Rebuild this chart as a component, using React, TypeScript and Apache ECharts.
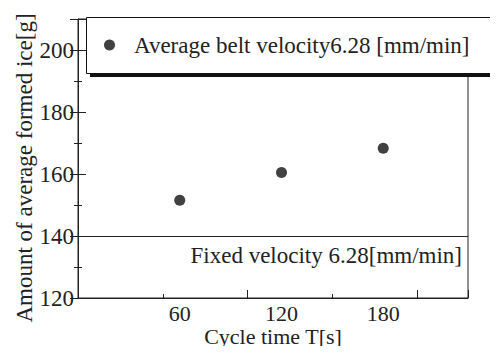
import React, { useEffect, useRef } from "react";
import * as echarts from "echarts";

const cycleTimes = [60, 120, 180];
const avgIce = [151.5, 160.5, 168.3];
const fixedIce = 140;
const xLabelValues = [60, 120, 180];
const seriesName = "Average belt velocity6.28 [mm/min]";
const fixedLabel = "Fixed velocity 6.28[mm/min]";
const xTitle = "Cycle time T[s]";
const yTitle = "Amount of average formed ice[g]";

const FONT = "'Liberation Serif', 'DejaVu Serif', serif";
const INK = "#222";

export default function App() {
  const ref = useRef<HTMLDivElement>(null);
  useEffect(() => {
    if (!ref.current) return;
    const chart = echarts.init(ref.current, undefined, { renderer: "svg" });
    const data = cycleTimes.map((x, i) => [x, avgIce[i]]);
    chart.setOption({
      animation: false,
      backgroundColor: "#fff",
      textStyle: { fontFamily: FONT },
      grid: {
        left: 78,
        right: 30,
        top: 19,
        bottom: 56,
        outerBoundsMode: "none",
        containLabel: false,
        show: true,
        borderColor: INK,
        borderWidth: 1,
        backgroundColor: "transparent",
      },
      graphic: [
        {
          type: "rect",
          z: 3,
          shape: { x: 90, y: 21, width: 407, height: 56 },
          style: { fill: "#111" },
        },
        {
          type: "rect",
          z: 4,
          shape: { x: 86.5, y: 17.5, width: 406, height: 56 },
          style: { fill: "#fff", stroke: "#111", lineWidth: 1 },
        },
        {
          type: "text",
          z: 5,
          x: 24,
          y: 168,
          rotation: Math.PI / 2,
          style: {
            text: yTitle,
            font: `23px ${FONT}`,
            fill: INK,
            textAlign: "center",
            textVerticalAlign: "middle",
          },
        },
      ],
      legend: {
        left: 86,
        top: 17,
        z: 6,
        orient: "horizontal",
        padding: [15, 0, 15, 18],
        itemWidth: 11,
        itemHeight: 11,
        icon: "circle",
        data: [seriesName],
        textStyle: {
          fontFamily: FONT,
          fontSize: 23,
          color: INK,
          lineHeight: 26,
          padding: [0, 0, 0, 14],
        },
      },
      xAxis: [
        {
          type: "value",
          min: 0,
          max: 230,
          interval: 50,
          position: "bottom",
          name: xTitle,
          nameLocation: "middle",
          nameGap: 27,
          nameMoveOverlap: false,
          nameTextStyle: { fontFamily: FONT, fontSize: 22, color: INK },
          axisLine: { show: true, lineStyle: { color: INK, width: 1 } },
          axisTick: { show: true, inside: true, length: 4, lineStyle: { color: INK } },
          splitLine: { show: false },
          axisLabel: {
            customValues: xLabelValues,
            fontFamily: FONT,
            fontSize: 22,
            color: INK,
            margin: 4,
          },
        },
        {
          type: "value",
          min: 0,
          max: 230,
          interval: 100,
          position: "bottom",
          axisLine: { show: false },
          axisTick: { show: true, inside: true, length: 8, lineStyle: { color: INK } },
          splitLine: { show: false },
          axisLabel: { show: false },
        },
      ],
      yAxis: [
        {
          type: "value",
          min: 120,
          max: 210,
          interval: 20,
          position: "left",
          axisLine: { show: true, lineStyle: { color: INK, width: 1 } },
          axisTick: { show: true, inside: true, length: 8, lineStyle: { color: INK } },
          minorTick: { show: true, splitNumber: 2, length: 4, lineStyle: { color: INK } },
          splitLine: { show: false },
          axisLabel: {
            fontFamily: FONT,
            fontSize: 23,
            color: INK,
            margin: 4,
            showMaxLabel: false,
          },
        },
        {
          type: "value",
          min: 120,
          max: 210,
          interval: 20,
          position: "right",
          axisLine: { show: true, lineStyle: { color: INK, width: 1 } },
          axisTick: { show: true, inside: true, length: 8, lineStyle: { color: INK } },
          minorTick: { show: true, splitNumber: 2, length: 4, lineStyle: { color: INK } },
          splitLine: { show: false },
          axisLabel: { show: false },
        },
      ],
      series: [
        {
          name: seriesName,
          type: "scatter",
          xAxisIndex: 0,
          yAxisIndex: 0,
          symbol: "circle",
          symbolSize: 11,
          itemStyle: { color: "#111" },
          data,
          markLine: {
            silent: true,
            symbol: "none",
            lineStyle: { color: INK, width: 1, type: "solid" },
            label: {
              show: true,
              position: "insideEndBottom",
              formatter: fixedLabel,
              fontFamily: FONT,
              fontSize: 23,
              color: INK,
              distance: [6, 8],
            },
            data: [{ yAxis: fixedIce }],
          },
        },
      ],
    });
    return () => chart.dispose();
  }, []);
  return <div ref={ref} style={{ width: 498, height: 354, margin: -8 }} />;
}
